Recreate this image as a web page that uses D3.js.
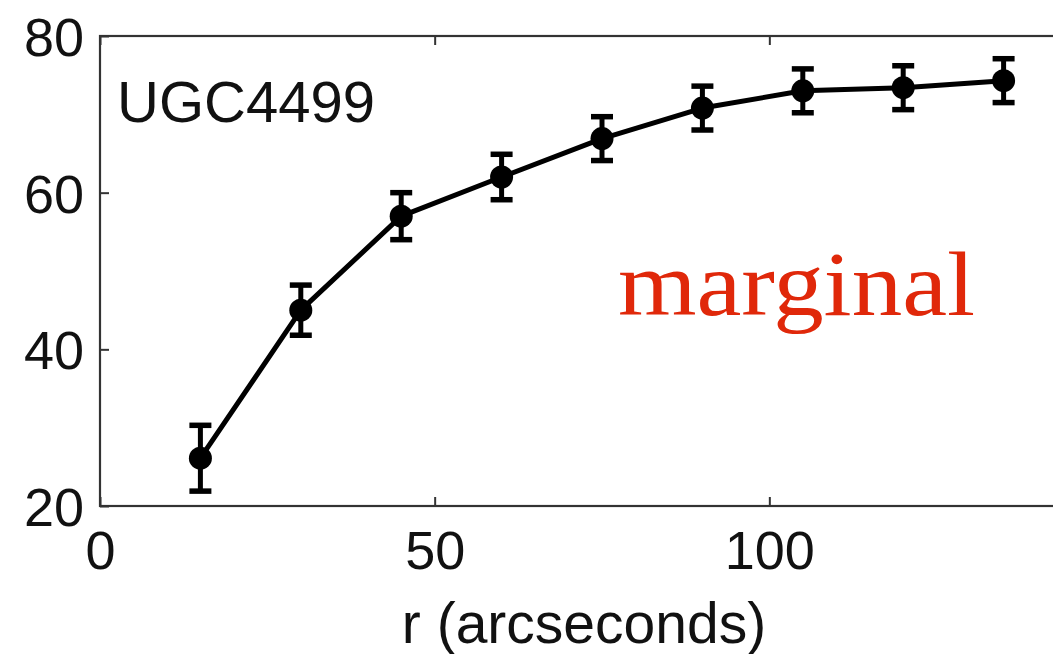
<!DOCTYPE html>
<html>
<head>
<meta charset="utf-8">
<script src="https://cdn.jsdelivr.net/npm/d3@7"></script>
<style>
  html, body { margin: 0; padding: 0; background: #fff; }
  svg { display: block; }
</style>
</head>
<body>
<script>
// Rotation curve of UGC4499: velocity vs radius with error bars
const radii = [15, 30, 45, 60, 75, 90, 105, 120, 135];
const velocity = [26.1, 45.0, 57.0, 62.0, 66.9, 70.8, 73.0, 73.4, 74.3];
const errors = [4.2, 3.2, 3.0, 2.9, 2.8, 2.8, 2.8, 2.8, 2.8];
const xTicks = [0, 50, 100];
const yTicks = [20, 40, 60, 80];
const galaxyName = "UGC4499";
const xLabel = "r (arcseconds)";
const note = "marginal";

const W = 1053, H = 654;
const svg = d3.select("body").append("svg").attr("width", W).attr("height", H);

const x = d3.scaleLinear().domain([0, 150]).range([100, 1104]);
const y = d3.scaleLinear().domain([20, 80]).range([506, 36]);

const axisColor = "#333";
const sans = "'Liberation Sans', Arial, Helvetica, sans-serif";

// frame
svg.append("rect")
  .attr("x", x(0)).attr("y", y(80))
  .attr("width", x(150) - x(0)).attr("height", y(20) - y(80))
  .attr("fill", "none").attr("stroke", axisColor).attr("stroke-width", 2.2);

// axes with inward ticks
const axBottom = svg.append("g").attr("transform", `translate(0,${y(20)})`)
  .call(d3.axisBottom(x).tickValues(xTicks).tickSizeInner(-9).tickSizeOuter(0).tickPadding(25));
const axTop = svg.append("g").attr("transform", `translate(0,${y(80)})`)
  .call(d3.axisTop(x).tickValues(xTicks).tickSizeInner(-9).tickSizeOuter(0).tickFormat(""));
const axLeft = svg.append("g").attr("transform", `translate(${x(0)},0)`)
  .call(d3.axisLeft(y).tickValues(yTicks).tickSizeInner(-9).tickSizeOuter(0).tickPadding(16));

[axBottom, axTop, axLeft].forEach(g => {
  g.select(".domain").remove();
  g.selectAll(".tick line").attr("stroke", axisColor).attr("stroke-width", 2);
  g.selectAll(".tick text")
    .attr("fill", "#111")
    .style("font-family", sans)
    .style("font-size", "54px");
});
axBottom.selectAll(".tick text").attr("dy", "0.71em");
axLeft.selectAll(".tick text").attr("dy", "0.36em");

// connecting line
svg.append("path")
  .datum(radii.map((r, i) => [r, velocity[i]]))
  .attr("fill", "none")
  .attr("stroke", "#000")
  .attr("stroke-width", 5)
  .attr("stroke-linejoin", "round")
  .attr("d", d3.line().x(d => x(d[0])).y(d => y(d[1])));

// error bars
const eb = svg.append("g").selectAll("g").data(radii).join("g");
eb.append("line")
  .attr("x1", (r) => x(r)).attr("x2", (r) => x(r))
  .attr("y1", (r, i) => y(velocity[i] - errors[i]))
  .attr("y2", (r, i) => y(velocity[i] + errors[i]))
  .attr("stroke", "#000").attr("stroke-width", 5);
[1, -1].forEach(s => {
  eb.append("line")
    .attr("x1", (r) => x(r) - 11).attr("x2", (r) => x(r) + 11)
    .attr("y1", (r, i) => y(velocity[i] + s * errors[i]))
    .attr("y2", (r, i) => y(velocity[i] + s * errors[i]))
    .attr("stroke", "#000").attr("stroke-width", 5.5);
});

// markers
svg.append("g").selectAll("circle").data(radii).join("circle")
  .attr("cx", r => x(r))
  .attr("cy", (r, i) => y(velocity[i]))
  .attr("r", 11.5)
  .attr("fill", "#000");

// galaxy name
svg.append("text")
  .attr("x", 117).attr("y", 122)
  .style("font-family", sans).style("font-size", "58px")
  .attr("fill", "#111")
  .text(galaxyName);

// x-axis label
svg.append("text")
  .attr("x", 584).attr("y", 643)
  .attr("text-anchor", "middle")
  .style("font-family", sans).style("font-size", "57px")
  .attr("fill", "#111")
  .text(xLabel);

// annotation
svg.append("text")
  .attr("x", 618).attr("y", 315)
  .attr("textLength", 357).attr("lengthAdjust", "spacingAndGlyphs")
  .style("font-family", "'Liberation Serif', 'Times New Roman', serif")
  .style("font-size", "92px")
  .attr("fill", "#e0280a")
  .text(note);
</script>
</body>
</html>
